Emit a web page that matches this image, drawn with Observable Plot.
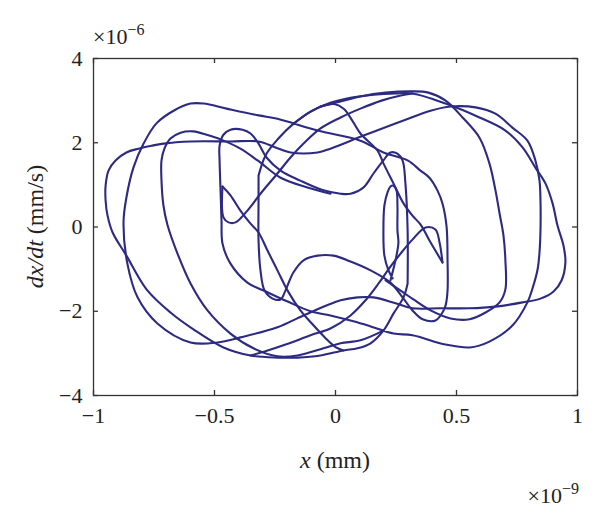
<!DOCTYPE html>
<html><head><meta charset="utf-8">
<script src="https://cdn.jsdelivr.net/npm/d3@7"></script>
<script src="https://cdn.jsdelivr.net/npm/@observablehq/plot@0.6"></script>
<style>body{margin:0;background:#fff}#chart svg{display:block}</style>
</head><body><div id="chart"></div>
<script>
const xTicks = [-1, -0.5, 0, 0.5, 1];
const xTickLabels = ["\u22121", "\u22120.5", "0", "0.5", "1"];
const yTicks = [-4, -2, 0, 2, 4];
const yTickLabels = ["\u22124", "\u22122", "0", "2", "4"];

// trajectory strands (x in 1e-9 mm, dx/dt in 1e-6 mm/s)
const orbitA = [[0.298,-1.34],[0.281,-1.67],[0.240,-2.05],[0.198,-2.46],[0.145,-2.76],[0.091,-2.88],[0.033,-2.93],[-0.062,-3.05],[-0.157,-3.10],[-0.240,-3.10],[-0.351,-3.05],[-0.463,-2.86],[-0.587,-2.43],[-0.682,-2.03],[-0.781,-1.48],[-0.864,-0.68],[-0.921,-0.13],[-0.942,0.27],[-0.950,0.63],[-0.950,0.98],[-0.938,1.34],[-0.909,1.58],[-0.864,1.77],[-0.814,1.86],[-0.760,1.93],[-0.711,1.98],[-0.599,2.03],[-0.434,2.03],[-0.318,2.03],[-0.248,1.89],[-0.186,1.77],[-0.074,1.77],[-0.021,1.86],[0.116,2.17],[0.281,2.53],[0.393,2.76],[0.475,2.86],[0.579,2.84],[0.661,2.69],[0.731,2.36],[0.793,2.05],[0.826,1.58],[0.843,1.10],[0.847,0.63],[0.847,-0.08],[0.843,-0.60],[0.835,-1.01],[0.814,-1.46],[0.793,-1.79],[0.731,-2.34],[0.636,-2.72],[0.554,-2.86],[0.455,-2.79],[0.318,-2.57],[0.240,-2.53],[0.145,-2.36],[0.074,-2.24],[-0.021,-2.10],[-0.103,-2.00],[-0.198,-1.77],[-0.281,-1.55],[-0.364,-1.32],[-0.434,-0.87],[-0.467,-0.39],[-0.471,0.15],[-0.475,0.87],[-0.479,1.58],[-0.479,1.93],[-0.463,2.19],[-0.434,2.31],[-0.384,2.31],[-0.351,2.22],[-0.318,1.98],[-0.285,1.65],[-0.227,1.34],[-0.145,1.10],[-0.050,0.87],[0.021,0.79],[0.062,0.79],[0.116,0.94],[0.157,1.27],[0.198,1.58],[0.227,1.77],[0.256,1.74],[0.277,1.58],[0.289,1.03],[0.298,-0.08],[0.298,-1.34]];
const orbitB = [[-0.318,1.22],[-0.289,1.70],[-0.236,2.10],[-0.178,2.43],[-0.103,2.74],[-0.021,2.95],[0.062,3.07],[0.157,3.14],[0.248,3.17],[0.318,3.17],[0.455,2.93],[0.595,2.60],[0.702,2.29],[0.773,1.89],[0.826,1.41],[0.868,1.03],[0.897,0.56],[0.917,0.04],[0.942,-0.44],[0.950,-0.84],[0.934,-1.27],[0.901,-1.53],[0.847,-1.70],[0.773,-1.79],[0.661,-1.89],[0.554,-1.93],[0.434,-1.93],[0.318,-1.93],[0.248,-1.81],[0.157,-1.67],[0.091,-1.67],[0.021,-1.74],[-0.132,-2.10],[-0.240,-2.38],[-0.393,-2.62],[-0.488,-2.74],[-0.599,-2.74],[-0.736,-2.29],[-0.818,-1.67],[-0.860,-0.87],[-0.876,0.11],[-0.864,0.70],[-0.835,1.41],[-0.793,1.98],[-0.740,2.46],[-0.669,2.76],[-0.599,2.93],[-0.545,2.93],[-0.450,2.81],[-0.318,2.65],[-0.240,2.57],[-0.074,2.29],[0.103,2.05],[0.198,1.77],[0.298,1.58],[0.351,1.34],[0.388,1.17],[0.421,0.87],[0.442,0.56],[0.459,0.01],[0.463,-0.79],[0.463,-1.51],[0.455,-1.86],[0.442,-2.03],[0.413,-2.22],[0.360,-2.19],[0.318,-1.98],[0.281,-1.70],[0.227,-1.32],[0.145,-1.03],[0.062,-0.82],[-0.008,-0.68],[-0.074,-0.68],[-0.132,-0.79],[-0.174,-1.08],[-0.207,-1.51],[-0.227,-1.72],[-0.260,-1.70],[-0.293,-1.51],[-0.310,-1.03],[-0.318,-0.32],[-0.318,0.63],[-0.318,1.22]];
const orbitC = [[0.198,-2.46],[0.103,-2.69],[0.021,-2.76],[-0.050,-2.88],[-0.157,-3.05],[-0.240,-3.07],[-0.339,-2.88],[-0.434,-2.53],[-0.529,-1.98],[-0.599,-1.34],[-0.653,-0.63],[-0.694,0.04],[-0.711,0.51],[-0.719,1.10],[-0.719,1.58],[-0.707,1.86],[-0.682,2.10],[-0.640,2.24],[-0.587,2.27],[-0.533,2.19],[-0.475,2.08],[-0.393,1.86],[-0.322,1.58],[-0.227,1.17],[-0.116,0.94],[-0.021,0.79]];
const orbitD = [[-0.062,2.86],[0.021,2.98],[0.103,3.10],[0.207,3.19],[0.318,3.22],[0.384,3.19],[0.455,3.00],[0.525,2.60],[0.595,2.12],[0.636,1.51],[0.661,0.87],[0.678,0.32],[0.694,-0.20],[0.702,-0.79],[0.702,-1.48],[0.678,-1.79],[0.620,-2.03],[0.554,-2.19],[0.475,-2.17],[0.393,-1.98],[0.322,-1.72],[0.269,-1.51],[0.207,-1.27]];
const hookLeft = [[-0.467,0.96],[-0.463,0.23],[-0.442,0.11],[-0.413,0.11],[-0.364,0.39],[-0.310,0.79],[-0.240,1.27],[-0.186,1.65],[-0.132,1.98],[-0.062,2.34],[0.021,2.60],[0.103,2.81],[0.190,3.00],[0.270,3.12],[0.318,3.17]];
const crossLeft = [[-0.467,0.96],[-0.434,0.75],[-0.393,0.39],[-0.351,0.08],[-0.318,-0.13],[-0.281,-0.56],[-0.240,-1.03],[-0.198,-1.51],[-0.145,-1.98],[-0.095,-2.31],[-0.041,-2.64],[0.000,-2.85],[0.033,-2.93]];
const hookRight = [[0.442,-0.84],[0.430,-0.37],[0.413,-0.06],[0.372,-0.01],[0.318,-0.30],[0.269,-0.63],[0.227,-0.94],[0.178,-1.34],[0.124,-1.74],[0.062,-2.10],[-0.021,-2.41],[-0.103,-2.57],[-0.200,-2.78],[-0.290,-2.95],[-0.351,-3.05]];
const crossRight = [[-0.178,2.43],[-0.103,2.74],[-0.050,2.88],[-0.005,2.92],[0.035,2.80],[0.070,2.52],[0.103,2.22],[0.174,1.81],[0.198,1.51],[0.240,1.03],[0.281,0.56],[0.318,0.27],[0.351,0.06],[0.393,-0.37],[0.442,-0.84]];
const transient = [[0.236,-1.22],[0.219,-1.03],[0.202,-0.68],[0.198,-0.08],[0.202,0.51],[0.215,0.82],[0.227,0.96],[0.240,0.98],[0.252,0.87],[0.256,0.51],[0.256,-0.08],[0.260,-0.37],[0.252,-0.68],[0.240,-0.98],[0.227,-1.27]];

const strands = {orbitA, orbitB, orbitC, orbitD, hookLeft, crossLeft, hookRight, crossRight, transient};
const data = Object.entries(strands).flatMap(([name, pts]) => pts.map(([x, y]) => ({name, x, y})));

const W = 600, H = 514, mL = 93, mR = 23, mT = 58, mB = 119;
const fw = W - mL - mR, fh = H - mT - mB;
const axisColor = "#333";
const font = "'Liberation Serif', 'Times New Roman', serif";

const plot = Plot.plot({
  width: W, height: H,
  marginLeft: mL, marginRight: mR, marginTop: mT, marginBottom: mB,
  style: {fontFamily: font, fontSize: "22px", background: "white", color: "#222"},
  x: {domain: [-1, 1], label: null},
  y: {domain: [-4, 4], label: null},
  marks: [
    Plot.line(data, {x: "x", y: "y", z: "name", stroke: "#2d2a82", strokeWidth: 2.1, curve: "catmull-rom", strokeLinejoin: "round"}),
    Plot.frame({stroke: axisColor, strokeWidth: 1.3}),
    Plot.tickX(xTicks, {x: d => d, insetTop: fh - 5, stroke: axisColor, strokeWidth: 1.3}),
    Plot.tickX(xTicks, {x: d => d, insetBottom: fh - 5, stroke: axisColor, strokeWidth: 1.3}),
    Plot.tickY(yTicks, {y: d => d, insetRight: fw - 5, stroke: axisColor, strokeWidth: 1.3}),
    Plot.tickY(yTicks, {y: d => d, insetLeft: fw - 5, stroke: axisColor, strokeWidth: 1.3}),
    Plot.axisX(xTicks, {tickSize: 0, tickPadding: 12, fontSize: 22, tickFormat: d => xTickLabels[xTicks.indexOf(d)]}),
    Plot.axisY(yTicks, {tickSize: 0, tickPadding: 11, fontSize: 22, tickFormat: d => yTickLabels[yTicks.indexOf(d)]})
  ]
});

const svg = d3.select(plot);
const xl = svg.append("text").attr("x", mL + fw / 2).attr("y", mT + fh + 73)
  .attr("text-anchor", "middle").attr("font-family", font).attr("font-size", 24).attr("fill", "#222");
xl.append("tspan").attr("font-style", "italic").text("x");
xl.append("tspan").text(" (mm)");

const yl = svg.append("text").attr("transform", `translate(${mL - 50},${mT + fh / 2}) rotate(-90)`)
  .attr("text-anchor", "middle").attr("font-family", font).attr("font-size", 24).attr("fill", "#222");
yl.append("tspan").attr("font-style", "italic").text("dx/dt");
yl.append("tspan").text(" (mm/s)");

const e6 = svg.append("text").attr("x", mL).attr("y", mT - 14)
  .attr("text-anchor", "start").attr("font-family", font).attr("font-size", 22).attr("fill", "#222");
e6.append("tspan").text("\u00d710");
e6.append("tspan").attr("dy", -9).attr("font-size", 16).text("\u22126");

const e9 = svg.append("text").attr("x", mL + fw + 2).attr("y", mT + fh + 108)
  .attr("text-anchor", "end").attr("font-family", font).attr("font-size", 22).attr("fill", "#222");
e9.append("tspan").text("\u00d710");
e9.append("tspan").attr("dy", -9).attr("font-size", 16).text("\u22129");

document.getElementById("chart").appendChild(plot);
</script>
</body></html>
